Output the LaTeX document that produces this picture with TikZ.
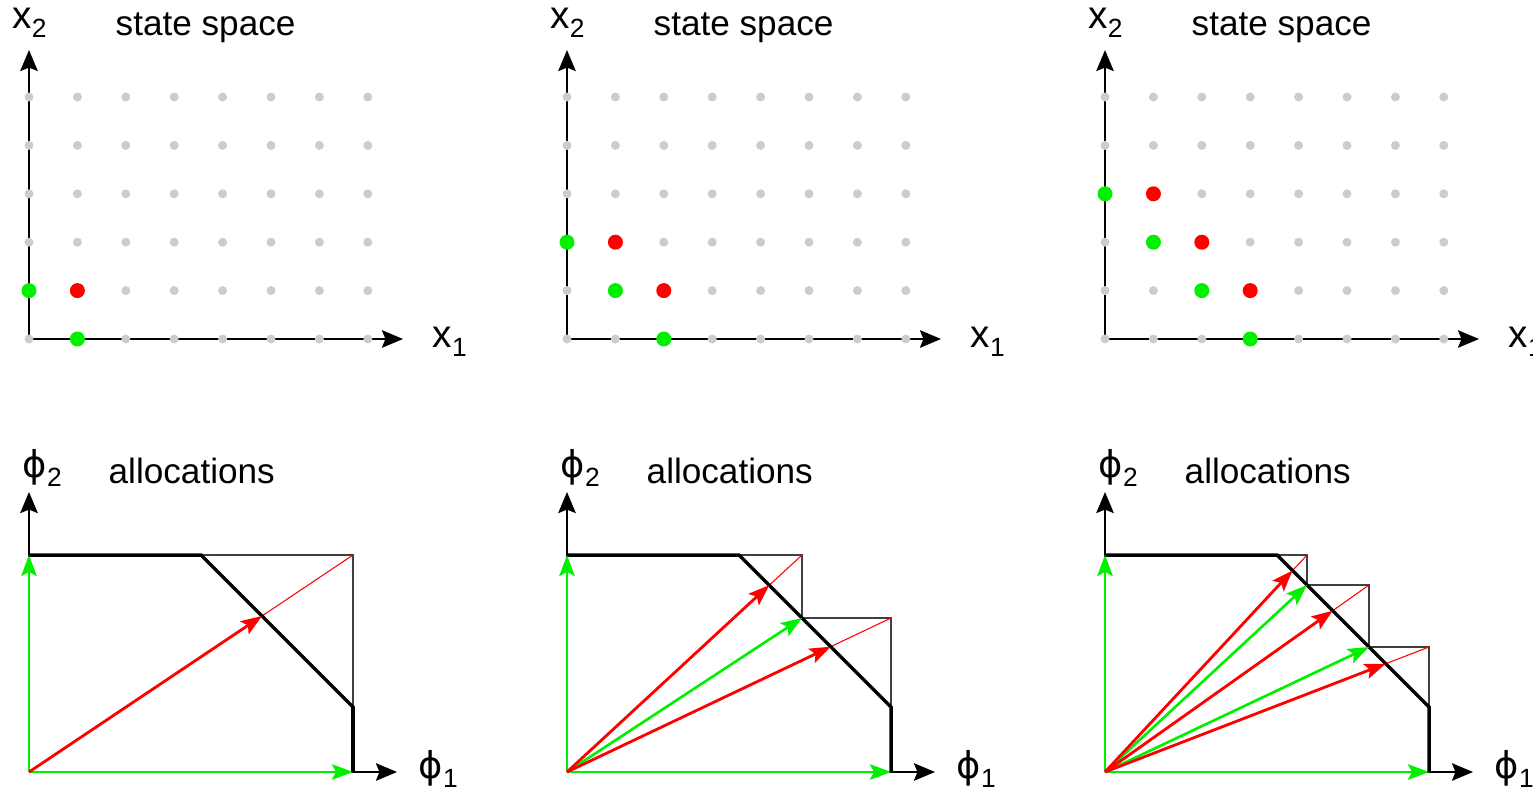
\documentclass[tikz,border=0pt]{standalone}
\usepackage{fontspec}
\setmainfont{Liberation Sans}
\newfontfamily\phifont{DejaVu Sans}
\usetikzlibrary{arrows.meta}
\definecolor{brightgreen}{RGB}{0,240,0}
\newcommand{\lowsub}[1]{\raisebox{-2.8pt}{\fontsize{7.5}{8}\selectfont #1}}
\newcommand{\phiglyph}{{\phifont\fontsize{10.5}{12}\selectfont ϕ}}

\begin{document}
\begin{tikzpicture}[
    axis/.style={-{Stealth[length=6pt,width=5pt,inset=1pt]}, line width=0.5pt},
    garrow/.style={-{Stealth[length=6pt,width=4.4pt,inset=1.2pt]}, line width=0.75pt, brightgreen},
    rarrow/.style={-{Stealth[length=6pt,width=4.4pt,inset=1.2pt]}, line width=0.8pt, red},
    thinbox/.style={line width=0.35pt, black!75},
    thinred/.style={line width=0.3pt, red},
    bound/.style={line width=1pt, black, line join=miter},
    title/.style={font=\fontsize{10}{12}\selectfont, inner sep=0pt, anchor=base west},
    axlabel/.style={font=\fontsize{11}{12}\selectfont, inner sep=0pt, anchor=base west},
  ]
  \useasboundingbox (0,0) rectangle (15.33,7.90);

  % common parts of the three columns
  \foreach \k in {1,2,3} {
    % state space
    \begin{scope}[shift={(0.29+5.38*\k-5.38,4.51)}]
      \coordinate (s\k o) at (0,0);
      \coordinate (s\k x) at (3.74,0);
      \coordinate (s\k y) at (0,2.89);
      \draw[axis] (s\k o) -- (s\k x);
      \draw[axis] (s\k o) -- (s\k y);
      \foreach \i in {0,...,7}
        \foreach \j in {0,...,5}
          \fill[black!20] (0.484*\i,0.484*\j) circle (0.045);
      \node[axlabel, anchor=base] (s\k lx2) at (0.005,3.11) {x\lowsub{2}};
      \node[title] (s\k t) at (0.86,3.04) {state space};
      \node[axlabel] (s\k lx1) at (4.03,-0.08) {x\lowsub{1}};
    \end{scope}
    % allocations
    \begin{scope}[shift={(0.29+5.38*\k-5.38,0.18)}]
      \coordinate (a\k o) at (0,0);
      \coordinate (a\k x) at (3.68,0);
      \coordinate (a\k y) at (0,2.80);
      \draw[axis] (a\k o) -- (a\k x);
      \draw[axis] (a\k o) -- (a\k y);
      \node[axlabel] (a\k lp2) at (-0.07,2.95) {\phiglyph\lowsub{2}};
      \node[title] (a\k t) at (0.79,2.89) {allocations};
      \node[axlabel] (a\k lp1) at (3.89,-0.06) {\phiglyph\lowsub{1}};
    \end{scope}
  }

  % state space dots
  \begin{scope}[shift={(0.29,4.51)}, x=0.484cm, y=0.484cm]
    \fill[brightgreen] (0,1) circle (0.075cm) (1,0) circle (0.075cm);
    \fill[red] (1,1) circle (0.075cm);
  \end{scope}
  \begin{scope}[shift={(5.67,4.51)}, x=0.484cm, y=0.484cm]
    \fill[brightgreen] (0,2) circle (0.075cm) (1,1) circle (0.075cm) (2,0) circle (0.075cm);
    \fill[red] (1,2) circle (0.075cm) (2,1) circle (0.075cm);
  \end{scope}
  \begin{scope}[shift={(11.05,4.51)}, x=0.484cm, y=0.484cm]
    \fill[brightgreen] (0,3) circle (0.075cm) (1,2) circle (0.075cm)
      (2,1) circle (0.075cm) (3,0) circle (0.075cm);
    \fill[red] (1,3) circle (0.075cm) (2,2) circle (0.075cm) (3,1) circle (0.075cm);
  \end{scope}

  % allocations, first column
  \begin{scope}[shift={(0.29,0.18)}]
    \coordinate (a1g) at (0,2.17);
    \coordinate (a1h) at (3.24,0);
    \coordinate (a1c) at (3.24,2.17);
    \coordinate (a1r) at (2.330,1.560);
    \draw[thinbox] (1.72,2.17) -- (a1c) -- (3.24,0.65);
    \draw[thinred] (a1o) -- (a1c);
    \draw[bound] (a1g) -- (1.72,2.17) -- (3.24,0.65) -- (a1h);
    \draw[garrow] (a1o) -- (a1g);
    \draw[garrow] (a1o) -- (a1h);
    \draw[rarrow] (a1o) -- (a1r);
  \end{scope}

  % allocations, second column
  \begin{scope}[shift={(5.67,0.18)}]
    \coordinate (a2g) at (0,2.17);
    \coordinate (a2h) at (3.24,0);
    \coordinate (a2m) at (2.35,1.54);
    \coordinate (a2c) at (2.35,2.17);
    \coordinate (a2d) at (3.24,1.54);
    \coordinate (a2r) at (2.022,1.868);
    \coordinate (a2s) at (2.637,1.253);
    \draw[thinbox] (1.72,2.17) -- (a2c) -- (a2m) -- (a2d) -- (3.24,0.65);
    \draw[thinred] (a2o) -- (a2c);
    \draw[thinred] (a2o) -- (a2d);
    \draw[bound] (a2g) -- (1.72,2.17) -- (3.24,0.65) -- (a2h);
    \draw[garrow] (a2o) -- (a2g);
    \draw[garrow] (a2o) -- (a2h);
    \draw[garrow] (a2o) -- (a2m);
    \draw[rarrow] (a2o) -- (a2r);
    \draw[rarrow] (a2o) -- (a2s);
  \end{scope}

  % allocations, third column
  \begin{scope}[shift={(11.05,0.18)}]
    \coordinate (a3g) at (0,2.17);
    \coordinate (a3h) at (3.24,0);
    \coordinate (a3m) at (2.02,1.87);
    \coordinate (a3n) at (2.64,1.25);
    \coordinate (a3c) at (2.02,2.17);
    \coordinate (a3d) at (2.64,1.87);
    \coordinate (a3e) at (3.24,1.25);
    \coordinate (a3r) at (1.875,2.015);
    \coordinate (a3s) at (2.277,1.613);
    \coordinate (a3t) at (2.807,1.083);
    \draw[thinbox] (1.72,2.17) -- (a3c) -- (a3m) -- (a3d) -- (a3n) -- (a3e) -- (3.24,0.65);
    \draw[thinred] (a3o) -- (a3c);
    \draw[thinred] (a3o) -- (a3d);
    \draw[thinred] (a3o) -- (a3e);
    \draw[bound] (a3g) -- (1.72,2.17) -- (3.24,0.65) -- (a3h);
    \draw[garrow] (a3o) -- (a3g);
    \draw[garrow] (a3o) -- (a3h);
    \draw[garrow] (a3o) -- (a3m);
    \draw[garrow] (a3o) -- (a3n);
    \draw[rarrow] (a3o) -- (a3r);
    \draw[rarrow] (a3o) -- (a3s);
    \draw[rarrow] (a3o) -- (a3t);
  \end{scope}
\end{tikzpicture}
\end{document}
